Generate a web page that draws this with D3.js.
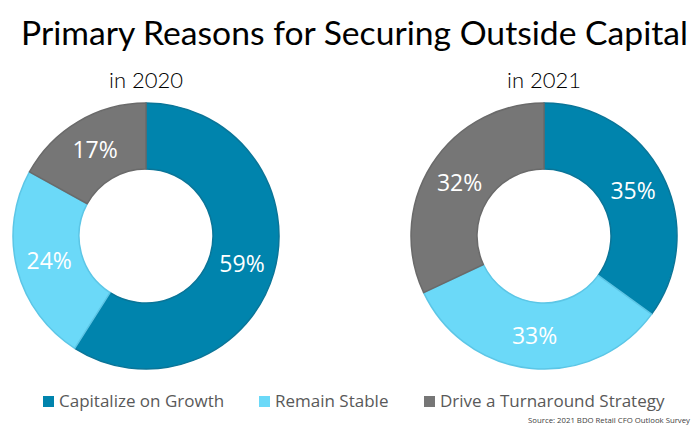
<!DOCTYPE html>
<html>
<head>
<meta charset="utf-8">
<script src="https://cdn.jsdelivr.net/npm/d3@7"></script>
<style>
html,body{margin:0;padding:0;background:#fff;}
svg{display:block;font-family:"Open Sans",sans-serif;}
</style>
</head>
<body>
<svg id="chart" width="700" height="430"></svg>
<script>
const categories = ["Capitalize on Growth", "Remain Stable", "Drive a Turnaround Strategy"];
const years = ["in 2020", "in 2021"];
const values2020 = [59, 24, 17];
const values2021 = [35, 33, 32];
const colors = ["#0084ad", "#6bd9f8", "#767676"];
const strokeColors = ["#0a7598", "#5cc6e6", "#6a6a6a"];
const titleText = "Primary Reasons for Securing Outside Capital";
const sourceText = "Source: 2021 BDO Retail CFO Outlook Survey";

const svg = d3.select("#chart");

// fit a text's font size so that its width matches a target width
function fitWidth(sel, target, base) {
  const w = sel.node().getComputedTextLength();
  if (w > 0) sel.style("font-size", (base * target / w).toFixed(2) + "px");
}

// Title
const title = svg.append("text")
  .attr("x", 21).attr("y", 45)
  .style("font-family", "Lato, 'Open Sans', sans-serif")
  .style("font-size", "32px").attr("fill", "#000")
  .text(titleText);
title.attr("textLength", 667).attr("lengthAdjust", "spacingAndGlyphs");

const color = d3.scaleOrdinal().domain(categories).range(colors);
const strokeColor = d3.scaleOrdinal().domain(categories).range(strokeColors);
const xPos = d3.scalePoint().domain(years).range([146, 544]);

const pie = d3.pie().sort(null).value(d => d.value);
const arc = d3.arc().innerRadius(67).outerRadius(133);

[[years[0], values2020], [years[1], values2021]].forEach(([yr, vals]) => {
  const data = categories.map((c, i) => ({cat: c, value: vals[i]}));
  const g = svg.append("g").attr("transform", `translate(${xPos(yr)},236)`);
  g.selectAll("path").data(pie(data)).join("path")
    .attr("d", arc)
    .attr("fill", d => color(d.data.cat))
    .attr("stroke", d => strokeColor(d.data.cat))
    .attr("stroke-width", 1.5)
    .attr("stroke-linejoin", "round");
  g.selectAll("text.lbl").data(pie(data)).join("text")
    .attr("class", "lbl")
    .attr("transform", d => `translate(${arc.centroid(d)})`)
    .attr("text-anchor", "middle").attr("dy", "0.36em")
    .attr("fill", "#fff").style("font-size", "23px")
    .text(d => d.data.value + "%");
  svg.append("text")
    .attr("x", xPos(yr)).attr("y", 88)
    .attr("text-anchor", "middle")
    .style("font-family", "Lato, 'Open Sans', sans-serif")
    .style("font-weight", 300)
    .style("font-size", "22px").attr("fill", "#000")
    .text(yr);
});

// Legend (layout)
const legendX = [43, 259, 424];
const legendW = [165, 112, 224];
const leg = svg.append("g");
categories.forEach((c, i) => {
  leg.append("rect").attr("x", legendX[i]).attr("y", 396).attr("width", 11).attr("height", 11)
    .attr("fill", color(c));
  const t = leg.append("text").attr("x", legendX[i] + 16).attr("y", 407)
    .style("font-size", "17px").attr("fill", "#595959").text(c);
  const w = t.node().getComputedTextLength();
  if (Math.abs(w - legendW[i]) > 2) {
    t.attr("transform", `translate(${legendX[i] + 16},0) scale(${legendW[i] / w},1) translate(${-(legendX[i] + 16)},0)`);
  }
});

const src = svg.append("text").attr("x", 690).attr("y", 423).attr("text-anchor", "end")
  .style("font-size", "10px").attr("fill", "#404040").text(sourceText);
fitWidth(src, 162, 10);
</script>
</body>
</html>
